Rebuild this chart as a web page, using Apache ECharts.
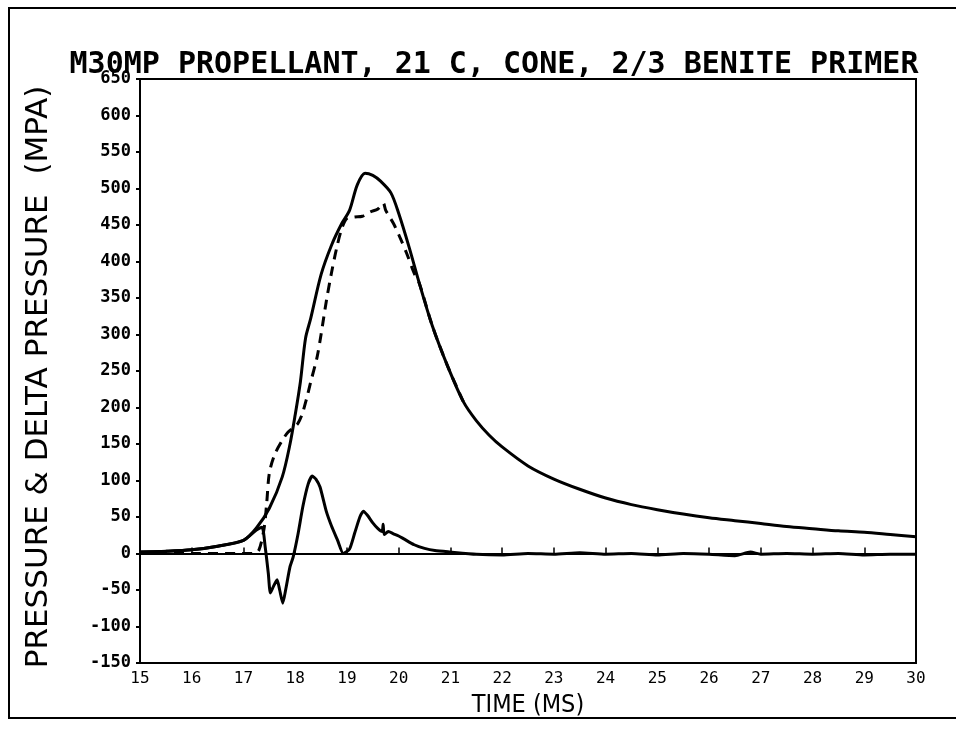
<!DOCTYPE html>
<html>
<head>
<meta charset="utf-8">
<script src="https://cdn.jsdelivr.net/npm/echarts@6/dist/echarts.min.js"></script>
<style>
html,body{margin:0;padding:0;background:#fff;}
#chart{width:960px;height:729px;}
</style>
</head>
<body>
<div id="chart"></div>
<script>
// ---- data ----
var titleText = 'M30MP PROPELLANT, 21 C, CONE, 2/3 BENITE PRIMER';
var xName = 'TIME (MS)';
var yName = 'PRESSURE & DELTA PRESSURE  (MPA)';

// pressure (solid)
var pressureTime = [15, 15.5, 16, 16.5, 17, 17.25, 17.5, 17.75, 17.9, 18.0, 18.1, 18.2, 18.3, 18.5, 18.7, 18.9, 19.05, 19.2, 19.35, 19.5, 19.65, 19.85, 20.0, 20.2, 20.4, 20.65, 20.95, 21.25, 21.5, 21.75, 22, 22.5, 23, 23.5, 24, 24.5, 25, 25.5, 26, 26.5, 27, 27.5, 28, 28.5, 29, 29.5, 30];
var pressureVal  = [2, 3, 5, 10, 18, 35, 62, 105, 150, 190, 235, 295, 322, 382, 422, 452, 470, 505, 521, 518, 510, 494, 466, 420, 370, 312, 256, 208, 182, 162, 146, 120, 102, 88, 76, 67, 60, 54, 49, 45, 41, 37, 34, 31, 29, 26, 23];

// second pressure trace (dashed)
var dashedTime = [15, 16, 17, 17.2, 17.3, 17.4, 17.45, 17.5, 17.6, 17.75, 17.86, 17.96, 18.05, 18.13, 18.22, 18.3, 18.42, 18.5, 18.6, 18.7, 18.8, 18.9, 19.0, 19.15, 19.3, 19.45, 19.6, 19.7, 19.75, 19.8, 19.9, 20.0, 20.15, 20.3, 20.4, 20.65, 20.95, 21.25];
var dashedVal  = [0, 0, 0, 0, 5, 35, 70, 110, 135, 155, 166, 172, 178, 190, 212, 235, 268, 300, 345, 384, 418, 445, 459, 461, 462, 468, 472, 480, 470, 464, 452, 437, 412, 384, 370, 312, 256, 208];

// delta pressure (solid)
var deltaTime = [15, 15.5, 16, 16.5, 17, 17.25, 17.36, 17.42, 17.48, 17.52, 17.58, 17.65, 17.7, 17.76, 17.82, 17.9, 17.96, 18.05, 18.15, 18.25, 18.33, 18.4, 18.48, 18.6, 18.7, 18.82, 18.93, 19.05, 19.15, 19.25, 19.32, 19.4, 19.5, 19.6, 19.68, 19.7, 19.72, 19.8, 19.9, 20.0, 20.1, 20.3, 20.5, 20.7, 21.0, 21.5, 22, 22.5, 23, 23.5, 24, 24.5, 25, 25.5, 26, 26.5, 26.8, 27, 27.5, 28, 28.5, 29, 29.5, 30];
var deltaVal  = [2, 3, 5, 10, 18, 32, 36, 9, -27, -54, -45, -36, -50, -68, -48, -18, -5, 25, 65, 95, 106, 102, 91, 58, 38, 18, 0, 6, 28, 50, 58, 52, 42, 34, 30, 40, 26, 30, 27, 24, 20, 12, 7, 4, 2, -1, -2, 0, -1, 1, -1, 0, -2, 0, -1, -3, 2, -1, 0, -1, 0, -2, -1, -1];

var xMin = 15, xMax = 30, xStep = 1;
var yMin = -150, yMax = 650, yStep = 50;

function pairs(xs, ys){ return xs.map(function(x,i){ return [x, ys[i]]; }); }

var chart = echarts.init(document.getElementById('chart'), null, {renderer:'canvas'});
chart.setOption({
  animation:false,
  backgroundColor:'#fff',
  title:{
    text:titleText, left:489, textAlign:'center', top:45,
    textStyle:{fontFamily:'DejaVu Sans Mono', fontWeight:'bold', fontSize:30, color:'#000'}
  },
  graphic:[{
    type:'polyline', silent:true,
    shape:{points:[[956,8],[9,8],[9,718],[956,718]]},
    style:{stroke:'#000', lineWidth:2, fill:null}
  }],
  grid:{left:140, right:44, top:79, bottom:66, show:true, borderColor:'#000', borderWidth:2},
  xAxis:{
    type:'value', min:xMin, max:xMax, interval:xStep,
    name:xName, nameLocation:'middle', nameGap:30,
    nameTextStyle:{fontFamily:'DejaVu Sans Condensed', fontSize:25, color:'#000'},
    axisLine:{lineStyle:{color:'#000', width:2}},
    axisTick:{inside:true, length:6, lineStyle:{color:'#000', width:1.5}},
    axisLabel:{fontFamily:'DejaVu Sans Mono', fontSize:16, color:'#000', margin:8},
    splitLine:{show:false}
  },
  yAxis:{
    type:'value', min:yMin, max:yMax, interval:yStep,
    name:yName, nameLocation:'middle', nameGap:86, nameRotate:90,
    nameTextStyle:{fontFamily:'DejaVu Sans', fontSize:31, color:'#000', padding:[0,12,0,0]},
    axisLine:{lineStyle:{color:'#000', width:2}},
    axisTick:{inside:false, length:4, lineStyle:{color:'#000', width:2}},
    axisLabel:{fontFamily:'DejaVu Sans Mono', fontWeight:'bold', fontSize:17, color:'#000', margin:9},
    splitLine:{show:false}
  },
  series:[
    {name:'Pressure', type:'line', data:pairs(pressureTime, pressureVal), showSymbol:false, smooth:0.3,
     lineStyle:{color:'#000', width:3}},
    {name:'Pressure 2', type:'line', data:pairs(dashedTime, dashedVal), showSymbol:false, smooth:0.3,
     lineStyle:{color:'#000', width:3, type:[10,7]}},
    {name:'Delta pressure', type:'line', data:pairs(deltaTime, deltaVal), showSymbol:false, smooth:0.2,
     lineStyle:{color:'#000', width:3}}
  ]
});
</script>
</body>
</html>
